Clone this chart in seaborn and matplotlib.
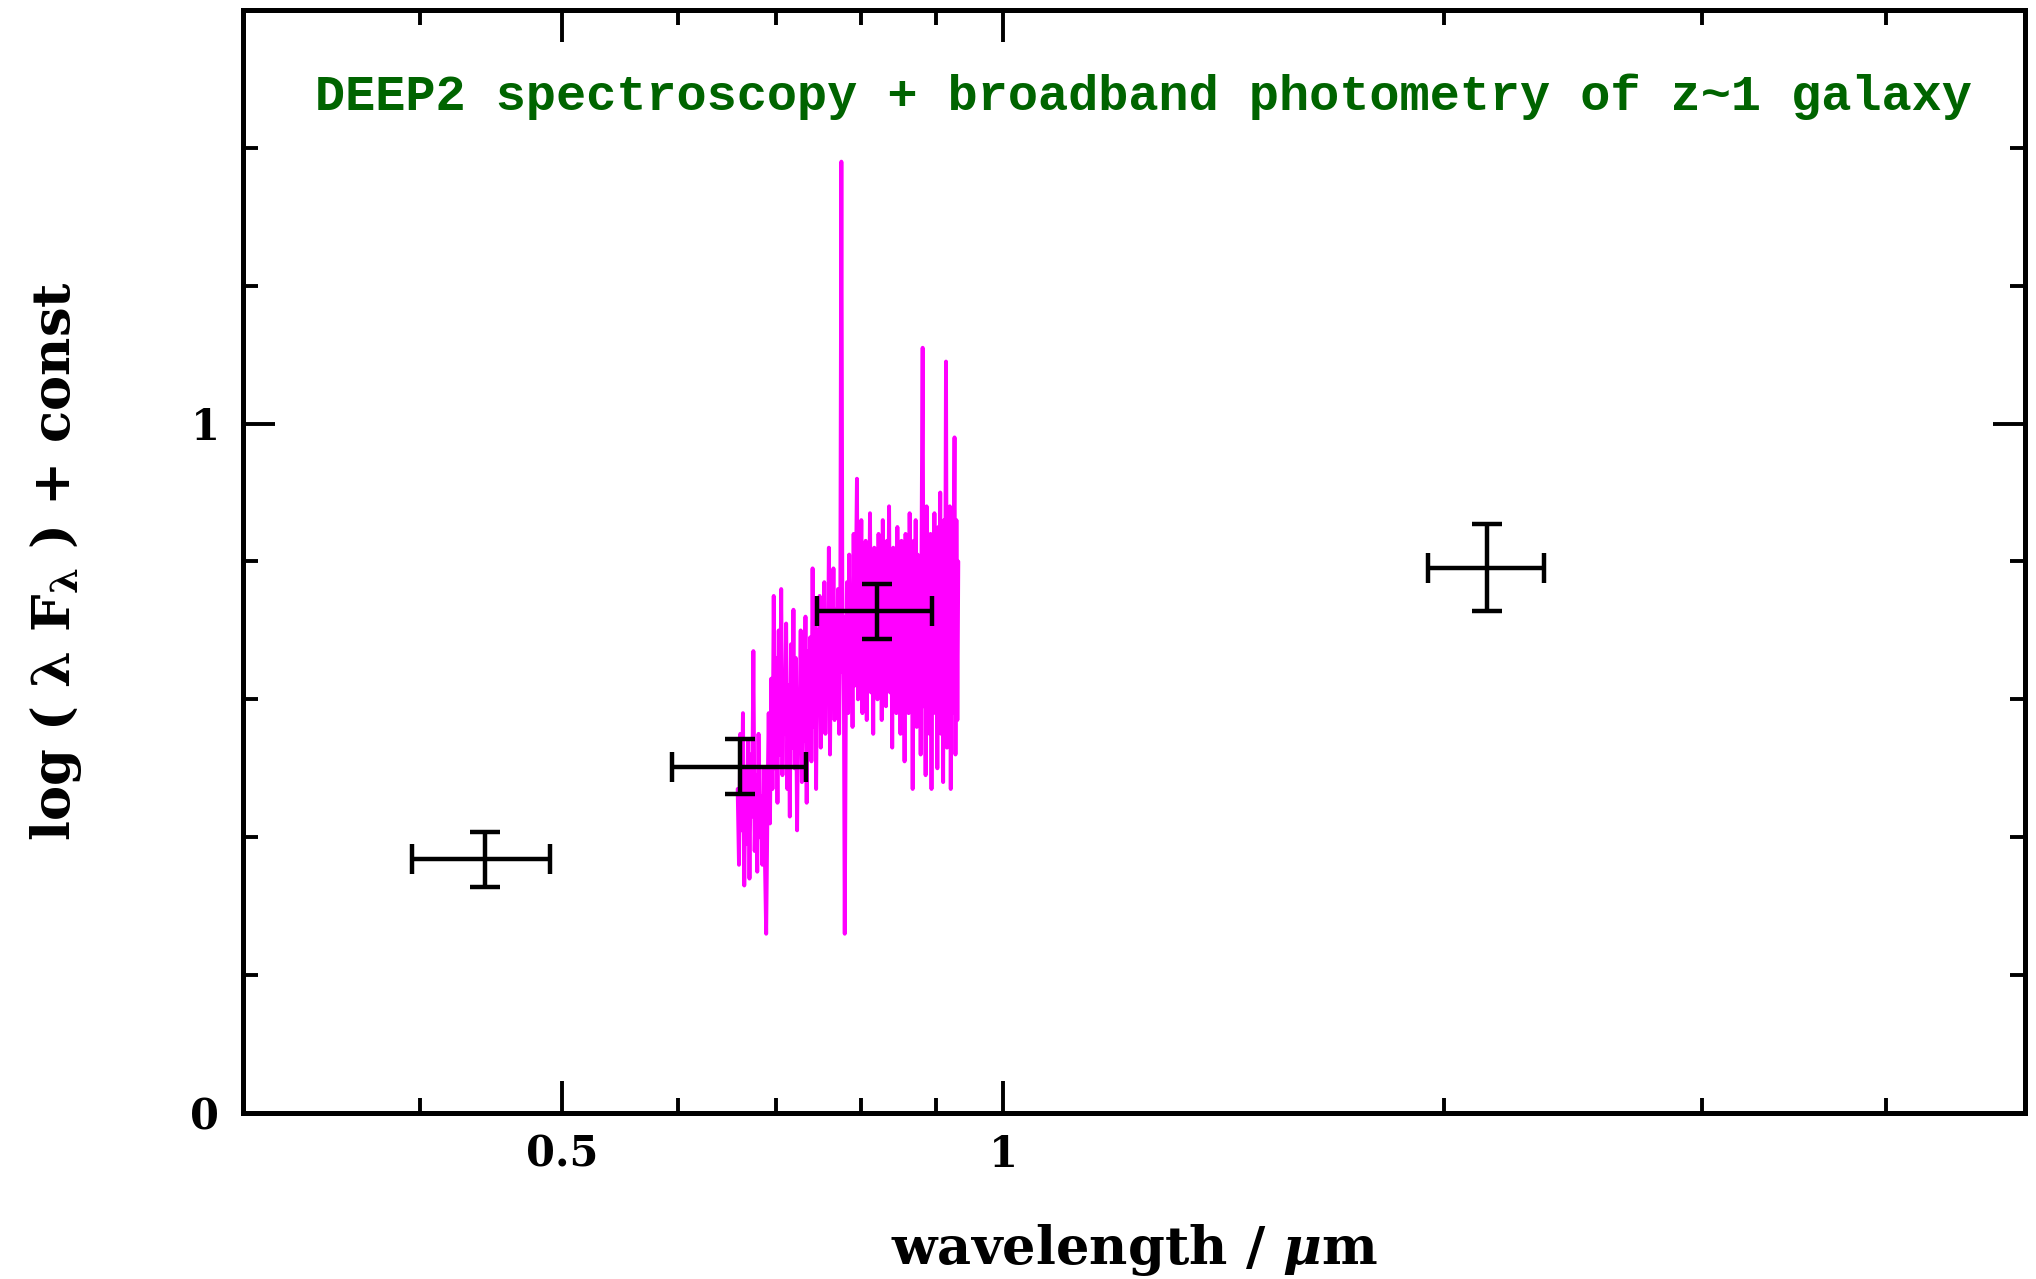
import numpy as np
import pandas as pd
import matplotlib
matplotlib.use("Agg")
import matplotlib.pyplot as plt
import matplotlib.ticker as mticker
import seaborn as sns

# Broadband photometry: central wavelength (micron), filter edges, log(lambda F_lambda)
phot_wave = [0.443, 0.661, 0.820, 2.14]
phot_wave_lo = [0.395, 0.594, 0.747, 1.95]
phot_wave_hi = [0.491, 0.734, 0.894, 2.34]
phot_flux = [0.368, 0.502, 0.728, 0.791]
phot_flux_err = [0.040, 0.040, 0.040, 0.063]

# DEEP2 spectrum, log(lambda F_lambda) on the spectrograph pixel grid
spec_flux = [
    0.47, 0.36, 0.55, 0.41, 0.58, 0.33, 0.50, 0.39, 0.54, 0.34,
    0.52, 0.43, 0.67, 0.38, 0.49, 0.35, 0.55, 0.40, 0.46, 0.36,
    0.50, 0.37, 0.26, 0.44, 0.58, 0.42, 0.63, 0.47, 0.75, 0.50,
    0.66, 0.45, 0.70, 0.52, 0.76, 0.49, 0.64, 0.55, 0.71, 0.47,
    0.62, 0.43, 0.68, 0.53, 0.73, 0.50, 0.66, 0.41, 0.60, 0.56,
    0.70, 0.48, 0.64, 0.54, 0.72, 0.45, 0.67, 0.58, 0.69, 0.51,
    0.79, 0.56, 0.72, 0.47, 0.70, 0.60, 0.75, 0.53, 0.68, 0.62,
    0.77, 0.55, 0.71, 0.60, 0.82, 0.52, 0.74, 0.63, 0.79, 0.57,
    0.73, 0.61, 0.76, 0.55, 0.70, 1.38, 0.64, 0.72, 0.26, 0.60,
    0.77, 0.58, 0.81, 0.63, 0.74, 0.56, 0.84, 0.62, 0.76, 0.92,
    0.60, 0.80, 0.66, 0.86, 0.58, 0.78, 0.64, 0.83, 0.57, 0.75,
    0.66, 0.87, 0.61, 0.79, 0.55, 0.82, 0.67, 0.76, 0.60, 0.84,
    0.64, 0.80, 0.57, 0.86, 0.66, 0.78, 0.59, 0.83, 0.68, 0.88,
    0.61, 0.79, 0.53, 0.82, 0.66, 0.77, 0.58, 0.85, 0.63, 0.80,
    0.55, 0.83, 0.67, 0.78, 0.51, 0.84, 0.62, 0.80, 0.58, 0.87,
    0.64, 0.79, 0.47, 0.83, 0.60, 0.86, 0.56, 0.81, 0.66, 0.78,
    0.52, 0.85, 1.11, 0.59, 0.82, 0.49, 0.88, 0.62, 0.79, 0.55,
    0.84, 0.47, 0.80, 0.63, 0.87, 0.58, 0.82, 0.50, 0.85, 0.61,
    0.90, 0.55, 0.81, 0.48, 0.86, 0.64, 1.09, 0.53, 0.83, 0.60,
    0.88, 0.47, 0.84, 0.58, 0.79, 0.98, 0.52, 0.86, 0.57, 0.80,
]
spec_start, spec_end = 0.659, 0.932  # micron, linear dispersion
spec_wave = np.linspace(spec_start, spec_end, len(spec_flux))

x_major = [0.5, 1.0]
x_major_labels = ["0.5", "1"]
x_minor = [0.4, 0.6, 0.7, 0.8, 0.9, 2.0, 3.0, 4.0]
y_major = [0.0, 1.0]
y_major_labels = ["0", "1"]
y_minor = [0.2, 0.4, 0.6, 0.8, 1.2, 1.4]

title_text = "DEEP2 spectroscopy + broadband photometry of z~1 galaxy"

sns.set_theme(style="ticks")
plt.rcParams["font.family"] = ["DejaVu Serif"]
plt.rcParams["font.weight"] = "bold"
for key in ("text.color", "axes.labelcolor", "xtick.color", "ytick.color",
            "xtick.labelcolor", "ytick.labelcolor"):
    plt.rcParams[key] = "black"
plt.rcParams["mathtext.fontset"] = "custom"
plt.rcParams["mathtext.rm"] = "DejaVu Serif:bold"
plt.rcParams["mathtext.bf"] = "DejaVu Serif:bold"
plt.rcParams["mathtext.it"] = "DejaVu Serif:italic:bold"
plt.rcParams["mathtext.default"] = "rm"

fig = plt.figure(figsize=(20.36, 12.79), dpi=100)
ax = fig.add_axes([0.1194, 0.1298, 0.9946 - 0.1194, 0.9922 - 0.1298])

spec_df = pd.DataFrame({"wave": spec_wave, "flux": spec_flux})
sns.lineplot(data=spec_df, x="wave", y="flux", color="#ff00ff", lw=2.8,
             estimator=None, sort=False, ax=ax, zorder=2)

xerr = [np.array(phot_wave) - np.array(phot_wave_lo),
        np.array(phot_wave_hi) - np.array(phot_wave)]
ax.errorbar(phot_wave, phot_flux, xerr=xerr, yerr=phot_flux_err, fmt="none",
            ecolor="black", elinewidth=3.2, capsize=11, capthick=3.2, zorder=3)

ax.set_xscale("log")
ax.set_xlim(0.303, 4.98)
ax.set_ylim(0, 1.6)

ax.xaxis.set_major_locator(mticker.FixedLocator(x_major))
ax.xaxis.set_major_formatter(mticker.FixedFormatter(x_major_labels))
ax.xaxis.set_minor_locator(mticker.FixedLocator(x_minor))
ax.xaxis.set_minor_formatter(mticker.NullFormatter())
ax.yaxis.set_major_locator(mticker.FixedLocator(y_major))
ax.yaxis.set_major_formatter(mticker.FixedFormatter(y_major_labels))
ax.yaxis.set_minor_locator(mticker.FixedLocator(y_minor))

ax.tick_params(which="both", direction="in", top=True, right=True,
               color="black", width=2.8)
ax.tick_params(which="major", length=23, labelsize=30)
ax.tick_params(which="minor", length=11)
ax.tick_params(axis="x", which="major", pad=15)
ax.tick_params(axis="y", which="major", pad=17)
for lab in ax.get_xticklabels() + ax.get_yticklabels():
    lab.set_fontweight("bold")

for side in ax.spines.values():
    side.set_linewidth(3.6)
    side.set_color("black")

ax.set_xlabel(r"wavelength / $\mathit{\mu}$m", fontsize=38, fontweight="bold", labelpad=33)
ax.set_ylabel(r"log ( λ F$_{λ}$ ) + const", fontsize=38, fontweight="bold", labelpad=77)

ax.text(0.505, 0.921, title_text, transform=ax.transAxes, ha="center", va="center",
        fontsize=36.2, fontweight="bold", color="#006400",
        family=["Liberation Mono", "DejaVu Sans Mono"])

fig.savefig("out.png", dpi=100, facecolor="white")
